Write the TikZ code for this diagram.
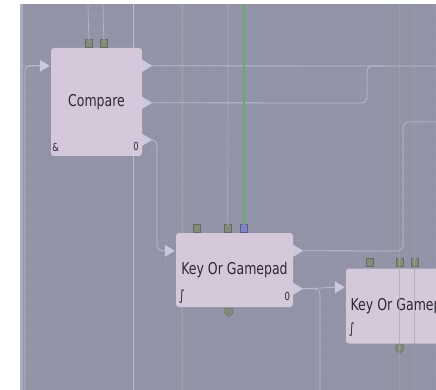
\documentclass[tikz,border=0pt]{standalone}
\usepackage{fontspec}
\setmainfont{DejaVu Sans}
\usetikzlibrary{calc,positioning}
\definecolor{canvas}{RGB}{146,147,166}
\definecolor{blockfill}{RGB}{212,200,218}
\definecolor{labeltext}{RGB}{44,40,54}
\definecolor{wire}{RGB}{188,188,206}
\definecolor{guide}{RGB}{158,170,160}
\definecolor{gridcol}{RGB}{149,150,170}
\definecolor{tri}{RGB}{204,200,224}
\definecolor{port}{RGB}{134,138,120}
\definecolor{portedge}{RGB}{104,108,94}
\definecolor{portblue}{RGB}{128,132,196}
\definecolor{live}{RGB}{104,172,108}
\newcommand{\tallify}[1]{\scalebox{1}[1.3]{#1}}
\tikzset{BLOCK/.style={rectangle, rounded corners=3pt, fill=blockfill, inner sep=0pt, text=labeltext, font=\fontsize{12.5}{13}\selectfont}}
\tikzset{SMALL/.style={inner sep=0pt, text=labeltext, font=\fontsize{8.5}{9}\selectfont}}
\tikzset{WIRE/.style={draw=wire, line width=0.8pt, rounded corners=5pt}}
\tikzset{GUIDE/.style={draw=guide, line width=0.7pt}}
\tikzset{PORT/.style={rectangle, fill=port, draw=portedge, line width=0.4pt, minimum width=7pt, minimum height=8pt, inner sep=0pt}}
\tikzset{INTRI/.pic={\fill[tri] (-10,-6) -- (0,0) -- (-10,6) -- cycle;}}
\tikzset{OUTTRI/.pic={\fill[tri] (0,-6) -- (10,0) -- (0,6) -- cycle;}}
\tikzset{NOTCH/.pic={\fill[canvas] (-1.8,-4.3) -- (1.8,-4.3) -- (0,-1.6) -- cycle;}}
\tikzset{SHIELD/.pic={\filldraw[fill=port, draw=portedge, line width=0.4pt] (-4,-4) -- (4,-4) -- (4,1) -- (0,4.5) -- (-4,1) -- cycle;}}

\begin{document}
\begin{tikzpicture}[x=1pt, y=-1pt]
    \useasboundingbox (0,0) rectangle (436,390);
    \fill[white] (0,0) rectangle (436,390);
    \fill[canvas] (20,4) rectangle (436,390);
    \begin{scope}
    \clip (20,4) rectangle (436,390);
    \draw[gridcol, line width=0.3pt, step=15pt] (20,4) grid (436,390);
    \fill[wire!60!canvas] (20,4) rectangle (23,390);

    % guide lines behind the blocks
    \draw[GUIDE, draw=wire] (133,4) -- (133,390);
    \draw[GUIDE] (182,4) -- (182,390);

    % blocks
    \node[BLOCK, minimum width=91pt, minimum height=108pt] (n_compare) at (96.5,102) {\tallify{Compare}};
    \node[BLOCK, minimum width=117pt, minimum height=74pt] (n_key1) at (234.5,270) {\tallify{Key Or Gamepad}};
    \node[BLOCK, minimum width=117pt, minimum height=75pt, text width=108pt, align=left] (n_key2) at (404.5,306) {\tallify{Key Or Gamepad}};

    \node[SMALL] (n_compare_icon) at ($(n_compare.south west)+(5,-9)$) {\tallify{\&}};
    \node[SMALL] (n_compare_val) at ($(n_compare.south east)+(-6,-10)$) {\tallify{0}};
    \node[SMALL, font=\fontsize{11}{12}\selectfont] (n_key1_icon) at ($(n_key1.south west)+(6,-11)$) {\tallify{∫}};
    \node[SMALL] (n_key1_val) at ($(n_key1.south east)+(-6,-11)$) {\tallify{0}};
    \node[SMALL, font=\fontsize{11}{12}\selectfont] (n_key2_icon) at ($(n_key2.south west)+(6,-14)$) {\tallify{∫}};

    % ports on top and bottom
    \node[PORT] (p_cmp_a) at ($(n_compare.north west)+(38,-5)$) {};
    \node[PORT] (p_cmp_b) at ($(n_compare.north west)+(53,-5)$) {};
    \pic at (p_cmp_a) {NOTCH};
    \pic at (p_cmp_b) {NOTCH};
    \node[PORT] (p_key1_a) at ($(n_key1.north west)+(21,-5)$) {};
    \node[PORT] (p_key1_b) at ($(n_key1.north west)+(52,-5)$) {};
    \node[PORT, fill=portblue, draw=portblue!70!black] (p_key1_c) at ($(n_key1.north west)+(68,-5)$) {};
    \pic at (p_key1_b) {NOTCH};
    \pic at (p_key1_c) {NOTCH};
    \node[PORT] (p_key2_a) at ($(n_key2.north west)+(24,-6)$) {};
    \node[PORT] (p_key2_b) at ($(n_key2.north west)+(54,-6)$) {};
    \node[PORT] (p_key2_c) at ($(n_key2.north west)+(69,-6)$) {};
    \pic at (p_key2_b) {NOTCH};
    \pic at (p_key2_c) {NOTCH};
    \coordinate (p_key1_d) at ($(n_key1.south west)+(53,5)$);
    \coordinate (p_key2_d) at ($(n_key2.south west)+(54,5)$);
    \pic at (p_key1_d) {SHIELD};
    \pic at (p_key2_d) {SHIELD};

    % inputs and outputs
    \coordinate (cmp_in) at ($(n_compare.north west)+(0,18)$);
    \coordinate (cmp_out1) at ($(n_compare.north east)+(0,18)$);
    \coordinate (cmp_out2) at ($(n_compare.north east)+(0,55)$);
    \coordinate (cmp_out3) at ($(n_compare.north east)+(0,92)$);
    \coordinate (key1_in) at ($(n_key1.north west)+(0,18)$);
    \coordinate (key1_out1) at ($(n_key1.north east)+(0,18)$);
    \coordinate (key1_out2) at ($(n_key1.north east)+(0,56)$);
    \coordinate (key2_in) at ($(n_key2.north west)+(0,19)$);
    \foreach \c in {cmp_in, key1_in, key2_in} {\pic at ($(\c)+(-1,0)$) {INTRI};}
    \foreach \c in {cmp_out1, cmp_out2, cmp_out3, key1_out1, key1_out2} {\pic at (\c) {OUTTRI};}

    % wires
    \coordinate (left_end) at (20,66);
    \coordinate (low_left) at (25,390);
    \coordinate (right_a) at (436,66);
    \coordinate (right_b) at (436,122);
    \coordinate (low_mid) at (320,390);
    \draw[WIRE] (left_end) -- ($(cmp_in)+(-11,0)$);
    \draw[WIRE] (low_left) -- (low_left|-cmp_in) -- ($(cmp_in)+(-11,0)$);
    \draw[WIRE] ($(cmp_out1)+(10,0)$) -- (right_a);
    \draw[WIRE] ($(cmp_out2)+(10,0)$) -- (367,103) -- (367,66) -- (385,66);
    \draw[WIRE] ($(cmp_out3)+(10,0)$) -- (157,140) -- (157,251) -- ($(key1_in)+(-11,0)$);
    \draw[WIRE] ($(key1_out1)+(10,0)$) -- (403,251) -- (right_b-|403,0) -- (right_b);
    \draw[WIRE] ($(key1_out2)+(10,0)$) -- ($(key2_in)+(-11,0)$);
    \draw[WIRE] ($(key1_out2)+(10,0)$) -- (low_mid|-key1_out2) -- (low_mid);

    % lines into the ports
    \draw[GUIDE, draw=wire!80!canvas] (88,4) -- (p_cmp_a.north);
    \draw[GUIDE, draw=wire!80!canvas] (103,4) -- (p_cmp_b.north);
    \draw[GUIDE, draw=wire!70!canvas] (228,4) -- (p_key1_b.north);
    \draw[live, line width=2.6pt] (p_key1_c.north|-0,4) -- (p_key1_c.north);
    \draw[GUIDE, opacity=0.6] (p_key2_b.center|-0,4) -- (p_key2_b.center|-0,390);
    \draw[GUIDE, opacity=0.6] (p_key2_c.center|-0,4) -- (p_key2_c.center|-0,390);
    \end{scope}
\end{tikzpicture}
\end{document}
